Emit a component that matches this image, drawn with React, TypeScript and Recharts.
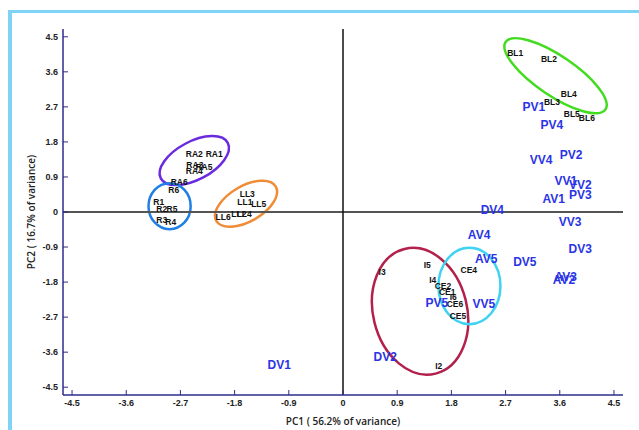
import React from 'react';
import { ScatterChart, Scatter, XAxis, YAxis, ReferenceLine, ReferenceArea, Label } from 'recharts';

// tick values on both axes
const xTicks = [-4.5, -3.6, -2.7, -1.8, -0.9, 0, 0.9, 1.8, 2.7, 3.6, 4.5];
const yTicks = [-4.5, -3.6, -2.7, -1.8, -0.9, 0, 0.9, 1.8, 2.7, 3.6, 4.5];

// sample scores (PC1, PC2)
const raPoints = [
  { name: 'RA2', x: -2.47, y: 1.49 },
  { name: 'RA1', x: -2.14, y: 1.49 },
  { name: 'RA3', x: -2.46, y: 1.21 },
  { name: 'RA5', x: -2.31, y: 1.16 },
  { name: 'RA4', x: -2.47, y: 1.05 },
  { name: 'RA6', x: -2.72, y: 0.77 },
];
const rPoints = [
  { name: 'R6', x: -2.81, y: 0.57 },
  { name: 'R1', x: -3.06, y: 0.26 },
  { name: 'R2', x: -3.01, y: 0.08 },
  { name: 'R5', x: -2.84, y: 0.08 },
  { name: 'R3', x: -3.01, y: -0.21 },
  { name: 'R4', x: -2.86, y: -0.26 },
];
const llPoints = [
  { name: 'LL3', x: -1.59, y: 0.46 },
  { name: 'LL1', x: -1.63, y: 0.26 },
  { name: 'LL5', x: -1.4, y: 0.21 },
  { name: 'LL6', x: -1.99, y: -0.13 },
  { name: 'LL2', x: -1.73, y: -0.05 },
  { name: 'LL4', x: -1.64, y: -0.05 },
];
const blPoints = [
  { name: 'BL1', x: 2.86, y: 4.09 },
  { name: 'BL2', x: 3.42, y: 3.93 },
  { name: 'BL4', x: 3.75, y: 3.03 },
  { name: 'BL3', x: 3.47, y: 2.83 },
  { name: 'BL5', x: 3.8, y: 2.52 },
  { name: 'BL6', x: 4.05, y: 2.42 },
];
const iPoints = [
  { name: 'I3', x: 0.65, y: -1.54 },
  { name: 'I5', x: 1.4, y: -1.36 },
  { name: 'I4', x: 1.49, y: -1.75 },
  { name: 'I6', x: 1.83, y: -2.19 },
  { name: 'I2', x: 1.59, y: -3.96 },
];
const cePoints = [
  { name: 'CE4', x: 2.09, y: -1.49 },
  { name: 'CE2', x: 1.66, y: -1.9 },
  { name: 'CE1', x: 1.73, y: -2.06 },
  { name: 'CE6', x: 1.86, y: -2.37 },
  { name: 'CE5', x: 1.91, y: -2.67 },
];
const vinePoints = [
  { name: 'PV1', x: 3.17, y: 2.7 },
  { name: 'PV4', x: 3.47, y: 2.24 },
  { name: 'VV4', x: 3.29, y: 1.34 },
  { name: 'PV2', x: 3.79, y: 1.47 },
  { name: 'VV1', x: 3.7, y: 0.8 },
  { name: 'VV2', x: 3.94, y: 0.69 },
  { name: 'AV1', x: 3.5, y: 0.33 },
  { name: 'PV3', x: 3.94, y: 0.44 },
  { name: 'DV4', x: 2.48, y: 0.05 },
  { name: 'VV3', x: 3.77, y: -0.26 },
  { name: 'AV4', x: 2.26, y: -0.59 },
  { name: 'DV3', x: 3.94, y: -0.95 },
  { name: 'AV5', x: 2.38, y: -1.21 },
  { name: 'DV5', x: 3.02, y: -1.29 },
  { name: 'AV3', x: 3.7, y: -1.67 },
  { name: 'AV2', x: 3.67, y: -1.75 },
  { name: 'PV5', x: 1.56, y: -2.34 },
  { name: 'VV5', x: 2.34, y: -2.37 },
  { name: 'DV2', x: 0.7, y: -3.73 },
  { name: 'DV1', x: -1.06, y: -3.93 },
];

// group outlines: centre and half-axes in data units, tilt in degrees
const groupRings = [
  { key: 'ra', cx: -2.47, cy: 1.32, rx: 0.63, ry: 0.49, tilt: -28 },
  { key: 'r', cx: -2.88, cy: 0.15, rx: 0.35, ry: 0.59, tilt: 0 },
  { key: 'll', cx: -1.61, cy: 0.21, rx: 0.57, ry: 0.455, tilt: -30 },
  { key: 'bl', cx: 3.53, cy: 3.5, rx: 1.0, ry: 0.51, tilt: 34 },
  { key: 'i', cx: 1.28, cy: -2.55, rx: 0.78, ry: 1.65, tilt: -14 },
  { key: 'ce', cx: 2.1, cy: -1.9, rx: 0.515, ry: 0.98, tilt: 0 },
];

const ringColors: Record<string, string> = {
  ra: '#6a2ae0',
  r: '#1f7fe6',
  ll: '#f08c36',
  bl: '#42dc1e',
  i: '#b3204c',
  ce: '#3fd2f2',
};

const AXIS = '#2d2b8c';
const BLUE = '#2a34e6';

const fmt = (v: number) => (v === 0 ? '0' : v.toFixed(1));

const smallLabel = (props: any) => (
  <text
    x={props.cx}
    y={props.cy}
    textAnchor="middle"
    dominantBaseline="central"
    fontFamily="'Liberation Sans', Arial, sans-serif"
    fontWeight="bold"
    fontSize={8.5}
    fill="#111"
  >
    {props.payload.name}
  </text>
);

const bigLabel = (props: any) => (
  <text
    x={props.cx}
    y={props.cy}
    textAnchor="middle"
    dominantBaseline="central"
    fontFamily="'Liberation Sans', Arial, sans-serif"
    fontWeight="bold"
    fontSize={12}
    fill={BLUE}
  >
    {props.payload.name}
  </text>
);

const tickStyle = {
  fontFamily: "'Liberation Sans', Arial, sans-serif",
  fontWeight: 'bold',
  fontSize: 9,
  fill: '#222',
};

export default function App() {
  return (
    <div style={{ position: 'absolute', left: 0, top: 0, width: 639, height: 430, background: '#fff' }}>
      <div
        style={{
          position: 'absolute',
          left: 8,
          top: 10,
          width: 631,
          height: 420,
          borderTop: '3px solid #7fd4f6',
          borderLeft: '4px solid #7fd4f6',
        }}
      />
      <div style={{ position: 'absolute', left: 0, top: 0 }}>
        <ScatterChart width={639} height={430} margin={{ top: 29, right: 16, bottom: 5, left: 18 }}>
          <XAxis
            type="number"
            dataKey="x"
            domain={[-4.65, 4.65]}
            ticks={xTicks}
            tickFormatter={fmt}
            allowDataOverflow
            height={30}
            tickSize={-5}
            tickMargin={10}
            tick={tickStyle}
            axisLine={{ stroke: AXIS, strokeWidth: 1.5 }}
            tickLine={{ stroke: AXIS }}
          >
            <Label
              content={(p: any) => (
                <text
                  x={p.viewBox.x + p.viewBox.width / 2}
                  y={p.viewBox.y + 26}
                  textAnchor="middle"
                  dominantBaseline="central"
                  fontFamily="'Open Sans', sans-serif"
                  fontWeight={600}
                  fontSize={10}
                  fill="#222"
                >
                  PC1 ( 56.2% of variance)
                </text>
              )}
            />
          </XAxis>
          <YAxis
            type="number"
            dataKey="y"
            domain={[-4.7, 4.7]}
            ticks={yTicks}
            tickFormatter={fmt}
            allowDataOverflow
            width={45}
            tickSize={-5}
            tickMargin={10}
            tick={tickStyle}
            axisLine={{ stroke: AXIS, strokeWidth: 1.5 }}
            tickLine={{ stroke: AXIS }}
          >
            <Label
              content={(p: any) => {
                const lx = p.viewBox.x + 13;
                const ly = p.viewBox.y + p.viewBox.height / 2;
                return (
                  <text
                    x={lx}
                    y={ly}
                    transform={`rotate(-90 ${lx} ${ly})`}
                    textAnchor="middle"
                    dominantBaseline="central"
                    fontFamily="'Open Sans', sans-serif"
                    fontWeight={600}
                    fontSize={10}
                    fill="#222"
                  >
                    PC2 ( 16.7% of variance)
                  </text>
                );
              }}
            />
          </YAxis>
          <XAxis
            xAxisId="top"
            orientation="top"
            type="number"
            domain={[-4.65, 4.65]}
            height={0}
            tick={false}
            tickLine={false}
            axisLine={{ stroke: '#1e1d5c', strokeWidth: 1.2 }}
          />
          <YAxis
            yAxisId="right"
            orientation="right"
            type="number"
            domain={[-4.7, 4.7]}
            width={0}
            tick={false}
            tickLine={false}
            axisLine={{ stroke: AXIS, strokeWidth: 1.5 }}
          />
          <ReferenceLine y={0} stroke="#555" strokeWidth={2} />
          <ReferenceLine x={0} stroke="#111" strokeWidth={1.5} />
          {groupRings.map((g) => (
            <ReferenceArea
              key={g.key}
              x1={g.cx - g.rx}
              x2={g.cx + g.rx}
              y1={g.cy - g.ry}
              y2={g.cy + g.ry}
              shape={(p: any) => {
                const ex = p.x + p.width / 2;
                const ey = p.y + p.height / 2;
                return (
                  <ellipse
                    cx={ex}
                    cy={ey}
                    rx={Math.abs(p.width) / 2}
                    ry={Math.abs(p.height) / 2}
                    transform={`rotate(${g.tilt} ${ex} ${ey})`}
                    fill="none"
                    stroke={ringColors[g.key]}
                    strokeWidth={2.5}
                  />
                );
              }}
            />
          ))}
          <Scatter data={raPoints} shape={smallLabel} isAnimationActive={false} />
          <Scatter data={rPoints} shape={smallLabel} isAnimationActive={false} />
          <Scatter data={llPoints} shape={smallLabel} isAnimationActive={false} />
          <Scatter data={blPoints} shape={smallLabel} isAnimationActive={false} />
          <Scatter data={iPoints} shape={smallLabel} isAnimationActive={false} />
          <Scatter data={cePoints} shape={smallLabel} isAnimationActive={false} />
          <Scatter data={vinePoints} shape={bigLabel} isAnimationActive={false} />
        </ScatterChart>
      </div>
    </div>
  );
}
